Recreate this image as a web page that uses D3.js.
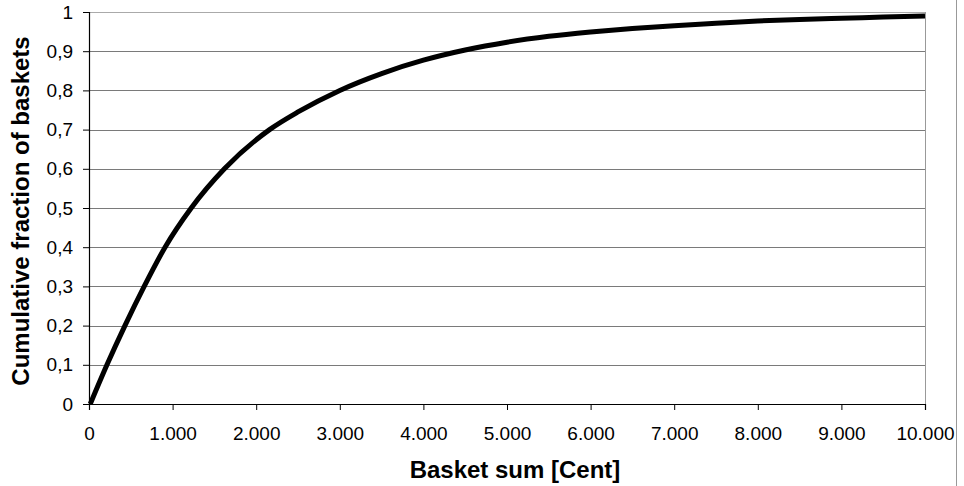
<!DOCTYPE html>
<html>
<head>
<meta charset="utf-8">
<script src="https://cdnjs.cloudflare.com/ajax/libs/d3/7.8.5/d3.min.js"></script>
<style>
body { margin: 0; background: #fff; }
text { font-family: "Liberation Sans", Arial, sans-serif; }
</style>
</head>
<body>
<div id="chart-area"></div>
<script>
// values
var basketSum = [15, 215, 430, 660, 910, 1223, 1620, 2160, 2500, 3000, 3500, 4000, 4500, 5000, 5500, 6000, 6500, 7000, 7500, 8000, 8500, 9000, 9500, 10000];
var cumFraction = [0, 0.1, 0.2, 0.3, 0.4, 0.5, 0.6, 0.7, 0.745, 0.8, 0.843, 0.877, 0.903, 0.923, 0.938, 0.949, 0.958, 0.965, 0.971, 0.977, 0.981, 0.984, 0.987, 0.99];
var xTicks = [0, 1000, 2000, 3000, 4000, 5000, 6000, 7000, 8000, 9000, 10000];
var yTicks = [0, 0.1, 0.2, 0.3, 0.4, 0.5, 0.6, 0.7, 0.8, 0.9, 1];

var W = 964, H = 486;
var margin = {top: 12, right: 39, bottom: 82, left: 89};
var w = W - margin.left - margin.right;
var h = H - margin.top - margin.bottom;

var loc = d3.formatLocale({decimal: ",", thousands: ".", grouping: [3], currency: ["", ""]});

var svg = d3.select("#chart-area").append("svg")
	.attr("width", W)
	.attr("height", H);

var g = svg.append("g")
	.attr("transform", "translate(" + margin.left + "," + margin.top + ")");

var x = d3.scaleLinear().domain([0, 10000]).range([0, w]);
var y = d3.scaleLinear().domain([0, 1]).range([h, 0]);

// gridlines
g.selectAll(".grid")
	.data(yTicks.filter(function(d){ return d > 0; }))
	.enter().append("line")
	.attr("class", "grid")
	.attr("x1", 0).attr("x2", w)
	.attr("y1", function(d){ return Math.round(y(d)) + 0.5; })
	.attr("y2", function(d){ return Math.round(y(d)) + 0.5; })
	.attr("stroke", function(d){ return d == 1 ? "#aaa" : "#7a7a7a"; })
	.attr("stroke-width", 1);

// right border
g.append("line")
	.attr("x1", w + 0.5).attr("x2", w + 0.5)
	.attr("y1", 0).attr("y2", h)
	.attr("stroke", "#999");

// axes
var xAxis = d3.axisBottom(x).tickValues(xTicks).tickSize(6).tickPadding(17)
	.tickFormat(function(d){ return loc.format(",")(d); });
var yAxis = d3.axisLeft(y).tickValues(yTicks).tickSize(6).tickPadding(10)
	.tickFormat(function(d){ return d == 0 || d == 1 ? String(d) : loc.format(".1f")(d); });

var gx = g.append("g").attr("transform", "translate(0," + h + ")").call(xAxis);
var gy = g.append("g").call(yAxis);

[gx, gy].forEach(function(a){
	a.select(".domain").attr("stroke", "#000").attr("stroke-width", 1.2);
	a.selectAll(".tick line").attr("stroke", "#000");
	a.selectAll("text").attr("fill", "#000")
		.style("font-size", "19px")
		.style("font-family", "'Liberation Sans', Arial, sans-serif");
});

// curve
var pts = basketSum.map(function(d, i){ return [d, cumFraction[i]]; });
var line = d3.line()
	.x(function(d){ return x(d[0]); })
	.y(function(d){ return y(d[1]); })
	.curve(d3.curveMonotoneX);

g.append("path")
	.datum(pts)
	.attr("d", line)
	.attr("fill", "none")
	.attr("stroke", "#000")
	.attr("stroke-width", 5);

// stray frame line on the right
svg.append("line")
	.attr("x1", 956.5).attr("x2", 956.5)
	.attr("y1", 0).attr("y2", H)
	.attr("stroke", "#999").attr("stroke-width", 1);

// titles
svg.append("text")
	.attr("x", 515).attr("y", 478)
	.attr("text-anchor", "middle")
	.style("font-size", "24px").style("font-weight", "bold")
	.text("Basket sum [Cent]");

svg.append("text")
	.attr("transform", "translate(29," + (margin.top + h / 2 + 3) + ") rotate(-90)")
	.attr("text-anchor", "middle")
	.style("font-size", "24px").style("font-weight", "bold")
	.text("Cumulative fraction of baskets");
</script>
</body>
</html>
